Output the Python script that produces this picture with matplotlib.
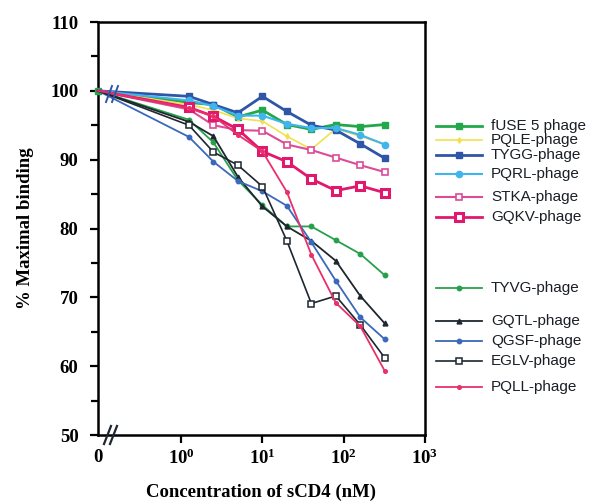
import numpy as np
import matplotlib
matplotlib.use("Agg")
import matplotlib.pyplot as plt
from matplotlib.ticker import FixedLocator, NullLocator

# --- sCD4 competition binding curves (phage clones) ---

conc = [0, 1.25, 2.5, 5, 10, 20, 40, 80, 160, 320]   # nM, 0 = no sCD4

fuse5 = [100, 98.3, 98.0, 96.2, 97.2, 95.1, 94.4, 95.1, 94.8, 95.1]
pqle  = [100, 98.0, 97.2, 96.0, 95.6, 93.4, 91.5, 94.5, 93.4, 92.2]
tygg  = [100, 99.2, 98.0, 96.8, 99.2, 97.0, 95.0, 94.3, 92.3, 90.2]
pqrl  = [100, 98.6, 97.8, 96.4, 96.4, 95.2, 94.6, 94.6, 93.6, 92.2]
stka  = [100, 97.3, 95.0, 94.3, 94.2, 92.2, 91.4, 90.3, 89.2, 88.2]
gqkv  = [100, 97.6, 96.3, 94.4, 91.2, 89.7, 87.2, 85.5, 86.2, 85.2]
tyvg  = [100, 95.8, 92.5, 87.0, 83.4, 80.3, 80.3, 78.3, 76.3, 73.2]
gqtl  = [100, 95.5, 93.4, 87.5, 83.2, 80.3, 78.2, 75.3, 70.2, 66.2]
qgsf  = [100, 93.3, 89.7, 86.9, 85.4, 83.3, 78.0, 72.4, 67.1, 63.9]
eglv  = [100, 95.0, 91.1, 89.2, 86.1, 78.2, 69.1, 70.2, 66.0, 61.2]
pqll  = [100, 97.5, 96.3, 93.6, 91.2, 85.3, 76.2, 69.2, 65.8, 59.3]

labels = ["fUSE 5 phage", "PQLE-phage", "TYGG-phage", "PQRL-phage", "STKA-phage",
          "GQKV-phage", "TYVG-phage", "GQTL-phage", "QGSF-phage", "EGLV-phage",
          "PQLL-phage"]
series = [fuse5, pqle, tygg, pqrl, stka, gqkv, tyvg, gqtl, qgsf, eglv, pqll]

# style: color, marker, marker size, face, edge width, line width
styles = [
    ("#22a84a", "s", 5.0, None,  1.0, 2.0),
    ("#f2e050", "d", 2.8, None,  1.0, 1.2),
    ("#2f56a6", "s", 5.0, None,  1.0, 2.0),
    ("#40b4ec", "o", 4.5, None,  1.0, 1.5),
    ("#dc4c96", "s", 4.5, "white", 1.2, 1.5),
    ("#e0186e", "s", 5.8, "white", 2.2, 2.0),
    ("#27a04c", "o", 3.2, None,  1.0, 1.3),
    ("#1e2630", "^", 3.5, None,  1.0, 1.3),
    ("#3a68bc", "o", 3.2, None,  1.0, 1.3),
    ("#1e2630", "s", 4.5, "white", 1.1, 1.2),
    ("#e8306a", "o", 2.6, None,  1.0, 1.3),
]

# legend rows (figure pixels, from top)
leg_y = [126, 140, 155, 174, 197, 217, 288, 321, 341, 361, 387]

ZERO = 0.095  # where the "0" concentration sits on the log axis
xpos = [ZERO if c == 0 else c for c in conc]

plt.rcParams["font.family"] = ["Liberation Serif", "DejaVu Serif"]
plt.rcParams["mathtext.fontset"] = "custom"
plt.rcParams["mathtext.rm"] = "Liberation Serif"
plt.rcParams["mathtext.bf"] = "Liberation Serif:bold"

W, H = 602, 504
fig = plt.figure(figsize=(W / 100, H / 100), dpi=100)
ax = fig.add_axes([98 / W, 1 - 435 / H, (425 - 98) / W, (435 - 22) / H])

for i, (ys, (col, mk, ms, mfc, mew, lw)) in enumerate(zip(series, styles)):
    ax.plot(xpos, ys, color=col, marker=mk, markersize=ms,
            markerfacecolor=mfc if mfc else col, markeredgecolor=col,
            markeredgewidth=mew, linewidth=lw, clip_on=False, zorder=3,
            markevery=None if i == 0 else slice(1, None))

ax.set_xscale("log")
ax.set_xlim(ZERO, 1000)
ax.set_ylim(50, 110)

ax.xaxis.set_major_locator(FixedLocator([ZERO, 1, 10, 100, 1000]))
ax.xaxis.set_minor_locator(NullLocator())
ax.set_xticklabels(["0", r"$\mathbf{10^{0}}$", r"$\mathbf{10^{1}}$",
                    r"$\mathbf{10^{2}}$", r"$\mathbf{10^{3}}$"])
ax.xaxis.get_majorticklines()[0].set_visible(False)
ax.xaxis.get_majorticklines()[1].set_visible(False)

ax.set_yticks(np.arange(50, 111, 10))
ax.set_yticks(np.arange(55, 110, 10), minor=True)

for s in ax.spines.values():
    s.set_linewidth(1.8)
ax.tick_params(axis="both", which="both", direction="out", width=1.6,
               labelsize=13.5)
ax.tick_params(axis="y", which="major", length=6, pad=8)
ax.tick_params(axis="y", which="minor", length=5)
ax.tick_params(axis="x", which="major", length=6, pad=4)
for t in ax.get_xticklabels() + ax.get_yticklabels():
    t.set_fontweight("bold")

ax.set_ylabel("% Maximal binding", fontsize=13.5, fontweight="bold", labelpad=12)
ax.set_xlabel("Concentration of sCD4 (nM)", fontsize=13.5, fontweight="bold",
              labelpad=11)

# overlay in pixel coords: axis breaks + legend
ov = fig.add_axes([0, 0, 1, 1], facecolor="none")
ov.set_xlim(0, W)
ov.set_ylim(H, 0)
ov.axis("off")

for dx in (0, 6):
    ov.plot([104 + dx, 111 + dx], [444, 426], color="#1e2630", lw=1.6)
    ov.plot([106 + dx, 112 + dx], [102, 86], color="#2f56a6", lw=1.4)

for i, (lab, (col, mk, ms, mfc, mew, lw)) in enumerate(zip(labels, styles)):
    y = leg_y[i]
    ov.plot([436, 482], [y, y], color=col, lw=lw)
    ov.plot([459], [y], marker=mk, markersize=ms, color=col,
            markerfacecolor=mfc if mfc else col, markeredgecolor=col,
            markeredgewidth=mew)
    ov.text(491, y, lab, fontsize=11, family=["Liberation Sans", "DejaVu Sans"],
            va="center", ha="left", color="#1a1f26")

fig.savefig("out.png", dpi=100)
